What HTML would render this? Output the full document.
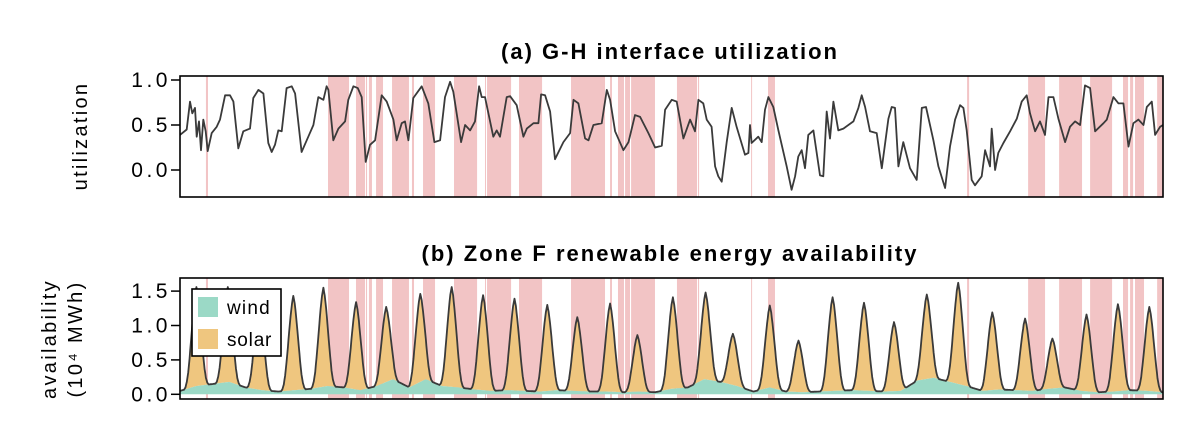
<!DOCTYPE html>
<html><head><meta charset="utf-8"><style>
html,body{margin:0;padding:0;background:#fff;}
svg{display:block;font-family:"Liberation Sans",sans-serif;}
</style></head><body>
<svg id="chart" width="1196" height="432" viewBox="0 0 1196 432">
<text x="670" y="59" text-anchor="middle" font-weight="bold" font-size="22" letter-spacing="2">(a) G-H interface utilization</text>
<text x="670" y="261" text-anchor="middle" font-weight="bold" font-size="22" letter-spacing="2">(b) Zone F renewable energy availability</text>
<text transform="translate(87,136) rotate(-90)" text-anchor="middle" font-size="20" letter-spacing="2.3">utilization</text>
<text transform="translate(56,339) rotate(-90)" text-anchor="middle" font-size="20" letter-spacing="2.3">availability</text>
<text transform="translate(82,339) rotate(-90)" text-anchor="middle" font-size="20" letter-spacing="2.3">(10⁴ MWh)</text>
<g id="pa"></g>
<g id="pb"></g>
</svg>
<script>
const spans=[[19.0,20.5],[108.4,123.8],[128.9,135.5],[136.2,137.0],[138.4,140.6],[143.6,148.7],[155.3,167.7],[169.9,171.4],[178.0,186.8],[200.7,217.6],[223.4,224.1],[224.9,242.5],[248.3,265.2],[286.4,311.3],[315.0,316.4],[320.8,325.2],[326.0,329.6],[330.4,347.9],[364.0,378.7],[379.4,380.2],[418.3,419.0],[430.7,435.8],[576.5,578.0],[621.2,633.6],[643.9,660.7],[666.6,682.7],[690.7,694.4],[695.9,698.1],[699.5,706.1],[715.7,720]];
const utilT=[0,4.9,7.3,9.0,11.0,12.2,13.9,15.4,17.1,18.8,20.3,23.2,26.9,29.3,33.0,36.6,39.1,42.7,46.4,51.3,53.7,57.4,61.1,64.7,67.2,69.6,72.0,74.5,78.1,81.8,84.3,89.1,94.0,97.7,101.3,105.0,107.4,108.7,112.3,116.0,120.9,123.3,127.0,130.2,133.1,136.0,139.2,142.9,147.7,151.4,156.3,158.7,162.4,164.8,167.3,170.9,177.0,181.9,186.3,190.5,194.1,197.8,200.2,205.9,208.8,212.5,216.1,219.1,221.0,223.4,229.5,232.0,234.4,239.3,241.8,246.6,251.5,254.0,258.9,262.5,264.5,267.4,271.1,274.7,280.8,285.7,288.2,291.8,296.7,299.2,302.8,308.9,312.6,315.0,318.7,324.8,328.5,333.3,337.0,343.1,348.0,352.9,355.3,360.2,363.8,368.7,373.6,377.2,379.7,383.3,385.8,389.4,391.9,394.3,396.8,400.4,404.1,407.7,413.8,416.3,417.5,418.7,423.6,426.1,428.5,431.0,434.6,438.3,444.4,448.0,450.5,452.9,455.4,457.8,460.2,463.9,468.8,471.2,473.7,476.1,478.6,482.2,485.9,493.2,496.9,499.3,501.8,505.4,510.3,514.0,518.9,521.3,523.7,526.2,529.8,534.7,539.6,543.3,546.4,551.8,555.5,560.4,564.0,567.7,571.4,573.8,576.2,579.9,582.3,587.2,589.7,593.3,594.5,597.0,599.4,603.1,608.0,612.9,616.5,620.2,622.6,626.3,629.9,633.6,636.1,639.7,643.4,648.3,651.9,655.6,659.3,662.9,666.6,670.3,676.4,678.8,683.7,687.4,691.0,694.7,698.3,702.0,705.7,708.1,711.8,714.2,717.9,720];
const utilV=[0.39,0.45,0.76,0.63,0.69,0.37,0.54,0.22,0.56,0.43,0.21,0.41,0.48,0.56,0.83,0.83,0.76,0.24,0.43,0.46,0.80,0.89,0.85,0.30,0.20,0.28,0.44,0.43,0.91,0.93,0.85,0.20,0.37,0.50,0.81,0.78,0.93,0.89,0.33,0.46,0.54,0.78,0.93,0.91,0.81,0.09,0.28,0.33,0.83,0.76,0.56,0.33,0.52,0.54,0.33,0.80,0.93,0.74,0.31,0.33,0.81,0.98,0.87,0.31,0.50,0.44,0.54,0.93,0.81,0.81,0.37,0.44,0.37,0.81,0.82,0.72,0.37,0.46,0.52,0.52,0.84,0.83,0.65,0.12,0.31,0.41,0.78,0.74,0.35,0.33,0.50,0.52,0.89,0.78,0.43,0.22,0.31,0.61,0.59,0.41,0.25,0.27,0.67,0.78,0.76,0.35,0.56,0.43,0.78,0.74,0.56,0.48,0.04,-0.07,-0.13,0.31,0.69,0.48,0.17,0.19,0.50,0.30,0.37,0.31,0.67,0.81,0.70,0.44,0.04,-0.22,-0.07,0.15,0.22,0.02,0.39,0.44,-0.06,-0.07,0.65,0.35,0.76,0.44,0.46,0.54,0.69,0.83,0.70,0.43,0.41,0.02,0.57,0.70,0.69,0.04,0.31,0.02,-0.11,0.69,0.70,0.33,0.04,-0.20,0.26,0.56,0.72,0.69,0.44,-0.11,-0.17,-0.07,0.22,0.04,0.46,0.00,0.19,0.30,0.43,0.57,0.76,0.83,0.63,0.43,0.54,0.39,0.81,0.81,0.57,0.31,0.48,0.54,0.50,0.94,0.91,0.43,0.52,0.56,0.81,0.74,0.74,0.26,0.52,0.56,0.50,0.70,0.76,0.39,0.48,0.50];
const peakT=[12,35,58,83,105,129,151,176,199,222,245,269,291,315,335,361,385,405,432,453,478,501,523,547,570,595,619,639,664,687,710];
const peakV=[1.56,1.56,1.35,1.43,1.55,1.34,1.27,1.46,1.56,1.44,1.39,1.30,1.12,1.32,0.86,1.41,1.48,0.88,1.29,0.78,1.41,1.33,1.05,1.45,1.62,1.19,1.10,0.81,1.16,1.31,1.27];
const solarProfile=[0,0.02,0.07,0.16,0.3,0.46,0.63,0.79,0.92,1,0.92,0.79,0.63,0.46,0.3,0.16,0.07,0.02,0];
const windV=[0.05,0.12,0.15,0.18,0.1,0.06,0.04,0.06,0.08,0.12,0.1,0.06,0.12,0.22,0.1,0.22,0.12,0.1,0.07,0.05,0.06,0.05,0.04,0.06,0.05,0.04,0.04,0.03,0.04,0.03,0.08,0.1,0.22,0.18,0.12,0.04,0.1,0.04,0.03,0.04,0.05,0.06,0.05,0.04,0.05,0.2,0.24,0.18,0.12,0.05,0.07,0.06,0.05,0.08,0.1,0.05,0.03,0.04,0.06,0.05,0.03];
const ticksA=[0.0,0.5,1.0], ticksB=[0.0,0.5,1.0,1.5];

const NS='http://www.w3.org/2000/svg';
const X0=180,X1=1163;
const xs=t=>X0+(t/720)*(X1-X0);
const yA=v=>170-v*90;
const yB=v=>394.3-v*68.8;
const HALF=(solarProfile.length-1)/2;
function mk(tag,attrs,parent){const e=document.createElementNS(NS,tag);for(const k in attrs)e.setAttribute(k,attrs[k]);parent.appendChild(e);return e;}
function wind(t){const i=Math.min(Math.floor(t/12),windV.length-2);const f=(t-i*12)/12;return windV[i]*(1-f)+windV[i+1]*f;}
function solar(t){let s=0;peakT.forEach((p,k)=>{const o=t-p+HALF;if(o>=0&&o<=2*HALF){const i=Math.floor(o),f=o-i;const a=solarProfile[i]*(1-f)+(solarProfile[Math.min(i+1,2*HALF)])*f;s+=a*Math.max(peakV[k]-wind(p),0);}});return s;}

function panel(g,top,bot,yf,ticks){
  spans.forEach(s=>{
    const r=mk('rect',{x:xs(s[0]),y:top,width:Math.max(xs(s[1])-xs(s[0]),1),height:bot-top,fill:'#f2c4c5'},g);
    
    
  });
  ticks.forEach(v=>{
    const l=mk('line',{x1:X0-9,x2:X0,y1:yf(v),y2:yf(v),stroke:'#000','stroke-width':1.5},g);
    
    
    const t=mk('text',{x:171,y:yf(v)+7,'text-anchor':'end','font-size':21,'letter-spacing':3.5},g);
    t.textContent=v.toFixed(1);
    
    
  });
}
const pa=document.getElementById('pa'),pb=document.getElementById('pb');
panel(pa,76,197,yA,ticksA);
panel(pb,278,399,yB,ticksB);

let d='';utilT.forEach((t,i)=>{d+=(i?'L':'M')+xs(t).toFixed(1)+','+yA(utilV[i]).toFixed(1);});
const la=mk('path',{d:d,fill:'none',stroke:'#3a3a3a','stroke-width':1.8,'stroke-linejoin':'round'},pa);



let wd='M'+xs(0)+','+yB(0),sd='',td='';
const pts=[];for(let t=0;t<=720;t+=0.5)pts.push(t);
pts.forEach(t=>{wd+='L'+xs(t).toFixed(1)+','+yB(wind(t)).toFixed(1);});
wd+='L'+xs(720)+','+yB(0)+'Z';
sd='M'+xs(0)+','+yB(wind(0));
pts.forEach(t=>{sd+='L'+xs(t).toFixed(1)+','+yB(wind(t)+solar(t)).toFixed(1);});
for(let i=pts.length-1;i>=0;i--)sd+='L'+xs(pts[i]).toFixed(1)+','+yB(wind(pts[i])).toFixed(1);
sd+='Z';
pts.forEach((t,i)=>{td+=(i?'L':'M')+xs(t).toFixed(1)+','+yB(wind(t)+solar(t)).toFixed(1);});
const sa=mk('path',{d:sd,fill:'#efc67f'},pb);


const wa=mk('path',{d:wd,fill:'#9bd9c6'},pb);


const tl=mk('path',{d:td,fill:'none',stroke:'#3a3a3a','stroke-width':1.8,'stroke-linejoin':'round'},pb);



[[pa,76,197],[pb,278,399]].forEach(([g,t,b])=>{
  const f=mk('rect',{x:X0,y:t,width:X1-X0,height:b-t,fill:'none',stroke:'#000','stroke-width':1.6},g);
  
  
});

const lg=mk('g',{},pb);


mk('rect',{x:192,y:289,width:89,height:67,fill:'#fff',stroke:'#000','stroke-width':1.6},lg);
const e1=mk('rect',{x:198,y:297,width:20,height:20,fill:'#9bd9c6'},lg);


const e2=mk('rect',{x:198,y:329,width:20,height:20,fill:'#efc67f'},lg);


const t1=mk('text',{x:227,y:314,'font-size':19,'letter-spacing':1.2},lg);t1.textContent='wind';


const t2=mk('text',{x:227,y:346,'font-size':19,'letter-spacing':0.8},lg);t2.textContent='solar';


</script>
</body></html>
